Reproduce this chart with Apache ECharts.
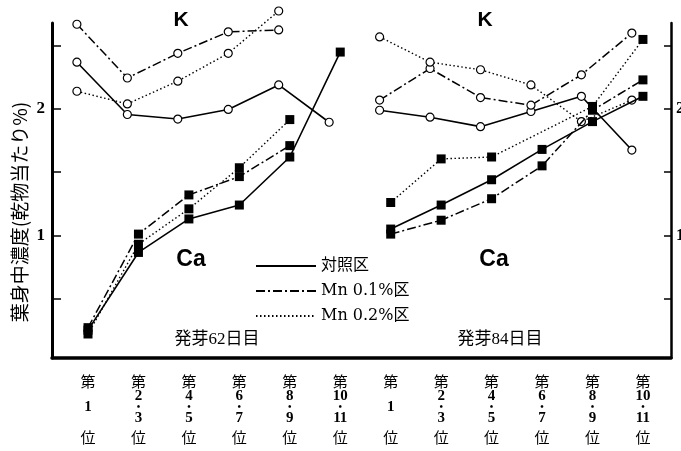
<!DOCTYPE html>
<html><head><meta charset="utf-8">
<script src="https://cdn.jsdelivr.net/npm/echarts@6/dist/echarts.min.js"></script>
<style>html,body{margin:0;padding:0;background:#fff}#c{width:681px;height:451px}</style>
</head><body><div id="c"></div>
<script>
// ---- data ----
const positions = ['第1位', '第2・3位', '第4・5位', '第6・7位', '第8・9位', '第10・11位'];
const posNumbers = [['1'], ['2', '3'], ['4', '5'], ['6', '7'], ['8', '9'], ['10', '11']];
const panels = ['発芽62日目', '発芽84日目'];
const elements = ['K', 'Ca'];
const treatments = ['対照区', 'Mn 0.1%区', 'Mn 0.2%区'];
const yTickValues = [0.5, 1, 1.5, 2, 2.5];
const yLabelValues = [1, 2];

// 発芽62日目
const k62Control = [2.37, 1.956, 1.92, 1.996, 2.19, 1.895];
const k62Mn01    = [2.67, 2.245, 2.44, 2.61, 2.625, null];
const k62Mn02    = [2.14, 2.04, 2.22, 2.44, 2.775, null];
const ca62Control = [0.25, 0.865, 1.13, 1.24, 1.62, 2.45];
const ca62Mn01    = [0.27, 1.01, 1.32, 1.465, 1.71, null];
const ca62Mn02    = [0.22, 0.93, 1.21, 1.535, 1.916, null];
// 発芽84日目
const k84Control = [1.99, 1.935, 1.86, 1.98, 2.10, 1.675];
const k84Mn01    = [2.07, 2.32, 2.09, 2.03, 2.27, 2.60];
const k84Mn02    = [2.57, 2.37, 2.31, 2.19, 1.90, 2.07];
const ca84Control = [1.05, 1.24, 1.44, 1.68, 1.90, 2.10];
const ca84Mn01    = [1.01, 1.12, 1.29, 1.55, 1.99, 2.23];
const ca84Mn02    = [1.26, 1.605, 1.62, null, 2.02, 2.55];

const dataTable = {
  '発芽62日目': { K: [k62Control, k62Mn01, k62Mn02], Ca: [ca62Control, ca62Mn01, ca62Mn02] },
  '発芽84日目': { K: [k84Control, k84Mn01, k84Mn02], Ca: [ca84Control, ca84Mn01, ca84Mn02] }
};

// ---- styles / layout ----
const SERIF = "'Liberation Serif', 'Noto Sans CJK JP', serif";
const WSERIF = "'DejaVu Serif', 'Noto Sans CJK JP', serif";
const CJK = "'Noto Sans CJK JP', sans-serif";
const SANS = "'Liberation Sans', Arial, sans-serif";
const lineTypes = ['solid', [9, 3, 2, 3], [1.5, 2.5]];
const lineWidths = [1.6, 1.5, 1.4];
const elemShift = { K: -0.22, Ca: 0 };
const GRID = { left: 52, right: 10, top: 23, bottom: 93, outerBoundsMode: 'none', containLabel: false };
const firstPx = 36, stepPx = 50.45;
const plotW = 681 - GRID.left - GRID.right;
const xMin = -firstPx / stepPx;
const xMax = xMin + plotW / stepPx;

const series = [];
panels.forEach((panel, p) => {
  elements.forEach(el => {
    dataTable[panel][el].forEach((vals, t) => {
      const pts = [];
      vals.forEach((v, i) => { if (v !== null) pts.push([p * positions.length + i + elemShift[el], v]); });
      series.push({
        name: el + ' ' + panel + ' ' + treatments[t],
        type: 'line',
        data: pts,
        clip: false,
        silent: true,
        symbol: el === 'K' ? 'circle' : 'rect',
        symbolSize: el === 'K' ? 8 : 9,
        showAllSymbol: true,
        z: el === 'K' ? 3 : 4,
        lineStyle: { color: '#000', width: lineWidths[t], type: lineTypes[t] },
        itemStyle: el === 'K'
          ? { color: '#fff', borderColor: '#000', borderWidth: 1.2 }
          : { color: '#000', borderWidth: 0 },
        emphasis: { disabled: true }
      });
    });
  });
});
// legend-only series
treatments.forEach((t, i) => {
  series.push({ name: t, type: 'line', data: [], symbol: 'none',
    lineStyle: { color: '#000', width: lineWidths[i], type: lineTypes[i] } });
});

const labelCustom = [];
for (let i = 0; i < panels.length * positions.length; i++) labelCustom.push(i);

function xLabel(v) {
  const j = Math.round(v) % positions.length;
  const nums = posNumbers[j];
  if (nums.length === 1) return '{a|第}\n{n| }\n{c|' + nums[0] + '}\n{n| }\n{b|位}';
  return '{a|第}\n{n|' + nums[0] + '}\n{d|•}\n{n|' + nums[1] + '}\n{b|位}';
}

const yAxisCommon = {
  type: 'value', min: 0.03, max: 2.68,
  splitLine: { show: false },
  axisTick: { show: true, inside: true, customValues: yTickValues, lineStyle: { color: '#000', width: 1.5 } },
  axisLabel: { customValues: yLabelValues, color: '#000', fontFamily: SERIF, fontSize: 17, fontWeight: 'bold' }
};

const option = {
  animation: false,
  backgroundColor: '#fff',
  grid: GRID,
  xAxis: {
    type: 'value', min: xMin, max: xMax,
    splitLine: { show: false },
    axisLine: { show: true, onZero: false, lineStyle: { color: '#000', width: 3.5 } },
    axisTick: { show: false },
    axisLabel: {
      customValues: labelCustom,
      formatter: xLabel,
      margin: 14,
      color: '#000',
      rich: {
        a: { fontFamily: CJK, fontSize: 15, lineHeight: 18, color: '#000' },
        b: { fontFamily: CJK, fontSize: 15, lineHeight: 26, color: '#000' },
        n: { fontFamily: SERIF, fontSize: 15, fontWeight: 'bold', lineHeight: 12, color: '#000' },
        c: { fontFamily: SERIF, fontSize: 15, fontWeight: 'bold', lineHeight: 10, color: '#000' },
        d: { fontFamily: SERIF, fontSize: 10, fontWeight: 'bold', lineHeight: 10, color: '#000' }
      }
    }
  },
  yAxis: [
    Object.assign({}, yAxisCommon, {
      position: 'left',
      axisLine: { show: true, onZero: false, lineStyle: { color: '#000', width: 3 } },
      axisTick: Object.assign({}, yAxisCommon.axisTick, { length: 9 }),
      axisLabel: Object.assign({}, yAxisCommon.axisLabel, { margin: 7 })
    }),
    Object.assign({}, yAxisCommon, {
      position: 'right',
      axisLine: { show: true, onZero: false, lineStyle: { color: '#000', width: 2.5 } },
      axisTick: Object.assign({}, yAxisCommon.axisTick, { length: 7 }),
      axisLabel: Object.assign({}, yAxisCommon.axisLabel, { margin: 5 })
    })
  ],
  legend: {
    data: treatments,
    orient: 'vertical',
    left: 250, top: 253,
    itemWidth: 60, itemHeight: 14, itemGap: 9,
    selectedMode: false,
    itemStyle: { color: 'rgba(0,0,0,0)', borderWidth: 0, opacity: 0 },
    textStyle: { color: '#000', fontFamily: WSERIF, fontSize: 16, lineHeight: 14 }
  },
  graphic: [
    { type: 'text', x: 181, y: 20, style: { text: 'K', fontFamily: SANS, fontWeight: 'bold', fontSize: 21, fill: '#000', align: 'center', verticalAlign: 'middle' } },
    { type: 'text', x: 485, y: 20, style: { text: 'K', fontFamily: SANS, fontWeight: 'bold', fontSize: 21, fill: '#000', align: 'center', verticalAlign: 'middle' } },
    { type: 'text', x: 191, y: 260, style: { text: 'Ca', fontFamily: SANS, fontWeight: 'bold', fontSize: 23, fill: '#000', align: 'center', verticalAlign: 'middle' } },
    { type: 'text', x: 494, y: 260, style: { text: 'Ca', fontFamily: SANS, fontWeight: 'bold', fontSize: 23, fill: '#000', align: 'center', verticalAlign: 'middle' } },
    { type: 'text', x: 217, y: 340, style: { text: panels[0], fontFamily: SERIF, fontSize: 17, fill: '#000', align: 'center', verticalAlign: 'middle' } },
    { type: 'text', x: 500, y: 340, style: { text: panels[1], fontFamily: SERIF, fontSize: 17, fill: '#000', align: 'center', verticalAlign: 'middle' } },
    { type: 'text', x: 20, y: 212, rotation: Math.PI / 2, style: { text: '葉身中濃度(乾物当たり%)', fontFamily: CJK, fontSize: 19, fill: '#000', align: 'center', verticalAlign: 'middle' } }
  ],
  series: series
};

const chart = echarts.init(document.getElementById('c'), null, { renderer: 'canvas' });
chart.setOption(option);
</script>
</body></html>
